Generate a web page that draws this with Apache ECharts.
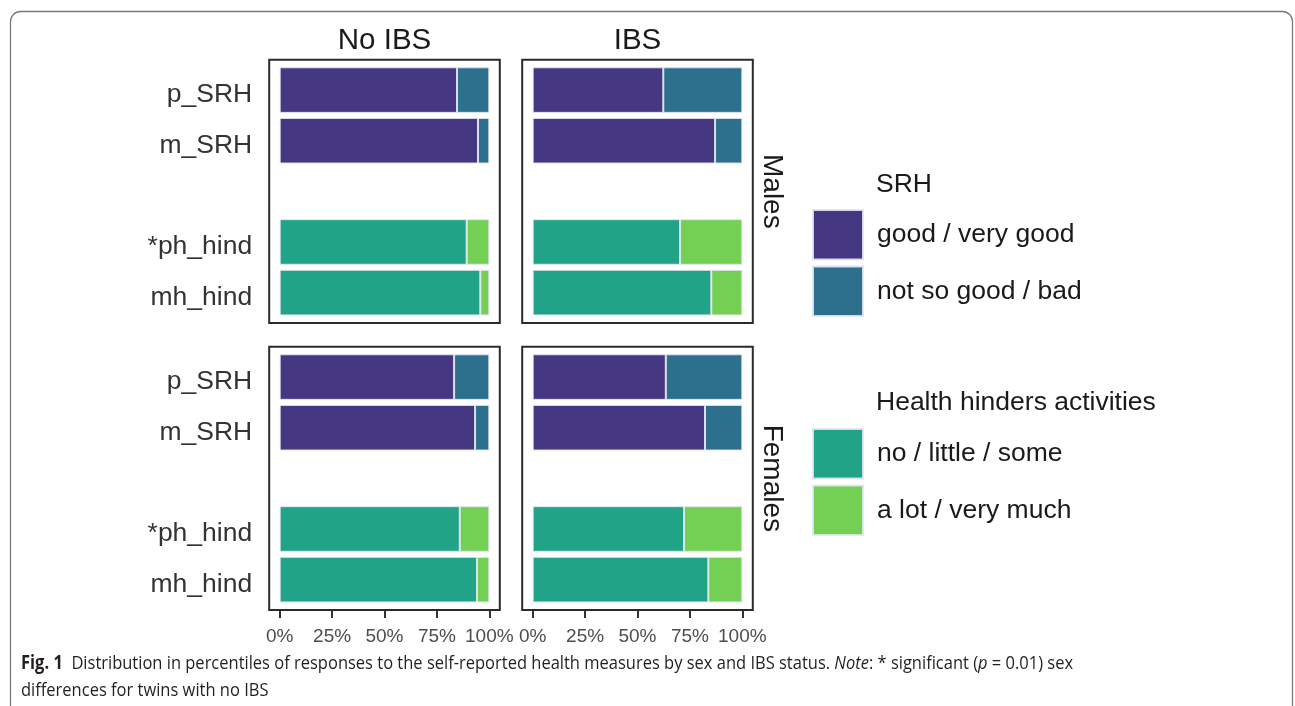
<!DOCTYPE html>
<html>
<head>
<meta charset="utf-8">
<script src="https://cdn.jsdelivr.net/npm/echarts@6/dist/echarts.min.js"></script>
<style>
html,body{margin:0;padding:0;background:#fff;}
#main{width:1295px;height:706px;}
</style>
</head>
<body>
<div id="main"></div>
<script>
// ---- data ----
const categories = ['p_SRH', 'm_SRH', ' ', '*ph_hind', 'mh_hind'];
const xTicks = [0, 25, 50, 75, 100];
const facetCols = ['No IBS', 'IBS'];
const facetRows = ['Males', 'Females'];
const srhNames = ['good / very good', 'not so good / bad'];
const hindNames = ['no / little / some', 'a lot / very much'];
const srhTitle = 'SRH';
const hindTitle = 'Health hinders activities';

// percentages, measures in order: p_SRH, m_SRH, *ph_hind, mh_hind
const malesNoIBSFavourable     = [84.6, 94.6, 89.2, 95.7];
const malesNoIBSUnfavourable   = [15.4, 5.4, 10.8, 4.3];
const malesIBSFavourable       = [62.3, 87.0, 70.3, 85.2];
const malesIBSUnfavourable     = [37.7, 13.0, 29.7, 14.8];
const femalesNoIBSFavourable   = [83.2, 93.2, 85.9, 94.1];
const femalesNoIBSUnfavourable = [16.8, 6.8, 14.1, 5.9];
const femalesIBSFavourable     = [63.5, 82.2, 72.2, 83.8];
const femalesIBSUnfavourable   = [36.5, 17.8, 27.8, 16.2];

const facets = [
  {row: 0, col: 0, fav: malesNoIBSFavourable, unf: malesNoIBSUnfavourable},
  {row: 0, col: 1, fav: malesIBSFavourable, unf: malesIBSUnfavourable},
  {row: 1, col: 0, fav: femalesNoIBSFavourable, unf: femalesNoIBSUnfavourable},
  {row: 1, col: 1, fav: femalesIBSFavourable, unf: femalesIBSUnfavourable}
];

// ---- layout ----
const FONT = 'Liberation Sans, Arial, sans-serif';
const LABEL_SIZE = 26.5;
const colors = ['#453781', '#2D708E', '#20A386', '#73D055'];
const panelX = [269.2, 522.2];
const panelW = 230.6;
const panelY = [59.7, 346.7];
const panelH = 263.3;
const unit = panelH / 5.2;   // discrete expansion of 0.6 on each side

const grids = [], xAxes = [], yAxes = [], series = [], graphics = [];

facets.forEach((f, i) => {
  const top = panelY[f.row] + 0.1 * unit;
  grids.push({left: panelX[f.col], top: top, width: panelW, height: 5 * unit, containLabel: false});
  const bottomRow = f.row === 1;
  xAxes.push({
    type: 'value', gridIndex: i, min: -5, max: 105, position: 'bottom',
    offset: 0.1 * unit,
    splitLine: {show: false},
    axisLine: {show: false},
    axisTick: {show: bottomRow, length: 8, customValues: xTicks, lineStyle: {color: '#333', width: 2}},
    axisLabel: {show: bottomRow, customValues: xTicks, formatter: '{value}%', fontSize: 19,
      color: '#4d4d4d', fontFamily: FONT, margin: 17}
  });
  yAxes.push({
    type: 'category', gridIndex: i, data: categories, inverse: true,
    axisLine: {show: false}, axisTick: {show: false}, splitLine: {show: false},
    axisLabel: {show: f.col === 0, fontSize: LABEL_SIZE, color: '#333', fontFamily: FONT, margin: 17,
      verticalAlign: 'top', lineHeight: 10}
  });
  const srhGood = [f.fav[0], f.fav[1], '-', '-', '-'];
  const srhBad = [f.unf[0], f.unf[1], '-', '-', '-'];
  const hindNo = ['-', '-', '-', f.fav[2], f.fav[3]];
  const hindLot = ['-', '-', '-', f.unf[2], f.unf[3]];
  [[srhNames[0], srhGood, colors[0]], [srhNames[1], srhBad, colors[1]],
   [hindNames[0], hindNo, colors[2]], [hindNames[1], hindLot, colors[3]]].forEach(s => {
    series.push({
      type: 'bar', name: s[0], data: s[1], xAxisIndex: i, yAxisIndex: i,
      stack: 'st' + i, barWidth: '90%', barGap: '0%',
      itemStyle: {color: s[2], borderColor: 'rgba(225,230,240,0.9)', borderWidth: 1},
      emphasis: {disabled: true}, animation: false
    });
  });
  graphics.push({
    type: 'rect', silent: true, z: 10,
    shape: {x: panelX[f.col], y: panelY[f.row], width: panelW, height: panelH},
    style: {fill: 'none', stroke: '#2b2b2b', lineWidth: 2}
  });
});

// strip labels
facetCols.forEach((t, c) => {
  graphics.push({type: 'text', x: panelX[c] + panelW / 2, y: 40.5, silent: true,
    style: {text: t, font: '29.5px ' + FONT, fill: '#1a1a1a', textAlign: 'center', textVerticalAlign: 'middle'}});
});
facetRows.forEach((t, r) => {
  graphics.push({type: 'text', x: 772, y: panelY[r] + panelH / 2, rotation: -Math.PI / 2, silent: true,
    style: {text: t, font: '28px ' + FONT, fill: '#1a1a1a', textAlign: 'center', textVerticalAlign: 'middle'}});
});
// legend titles
graphics.push({type: 'text', x: 876, y: 184.5, silent: true,
  style: {text: srhTitle, font: LABEL_SIZE + 'px ' + FONT, fill: '#1a1a1a', textAlign: 'left', textVerticalAlign: 'middle'}});
graphics.push({type: 'text', x: 876, y: 403, silent: true,
  style: {text: hindTitle, font: LABEL_SIZE + 'px ' + FONT, fill: '#1a1a1a', textAlign: 'left', textVerticalAlign: 'middle'}});
// outer frame
graphics.push({type: 'rect', silent: true, z: 0,
  shape: {x: 10.5, y: 11.5, width: 1282, height: 740, r: 10},
  style: {fill: 'none', stroke: '#7a7a7a', lineWidth: 1.3}});
// caption
const CAPFONT = '"Open Sans", sans-serif';
graphics.push({type: 'text', x: 21, y: 664, scaleX: 0.868, silent: true,
  style: {
    text: '{b|Fig. 1}  Distribution in percentiles of responses to the self-reported health measures by sex and IBS status. {i|Note}: * significant ({i|p} = 0.01) sex',
    font: '19px ' + CAPFONT, fill: '#231f20', textVerticalAlign: 'middle',
    rich: {b: {fontWeight: 'bold', fontSize: 19, fontFamily: CAPFONT}, i: {fontStyle: 'italic', fontSize: 19, fontFamily: CAPFONT}}
  }});
graphics.push({type: 'text', x: 21, y: 691, scaleX: 0.868, silent: true,
  style: {text: 'differences for twins with no IBS', font: '19px ' + CAPFONT, fill: '#231f20', textVerticalAlign: 'middle'}});

const legendCommon = {
  orient: 'vertical', left: 812, itemWidth: 50, itemHeight: 49.5, itemGap: 5, padding: 0,
  icon: 'rect', selectedMode: false,
  textStyle: {fontSize: LABEL_SIZE, color: '#1a1a1a', fontFamily: FONT, padding: [3, 0, 0, 9]}
};

const option = {
  backgroundColor: '#fff',
  animation: false,
  grid: grids,
  xAxis: xAxes,
  yAxis: yAxes,
  legend: [
    Object.assign({}, legendCommon, {top: 209, data: srhNames}),
    Object.assign({}, legendCommon, {top: 428, data: hindNames})
  ],
  series: series,
  graphic: graphics
};

const chart = echarts.init(document.getElementById('main'), null, {renderer: 'canvas'});
chart.setOption(option);
</script>
</body>
</html>
